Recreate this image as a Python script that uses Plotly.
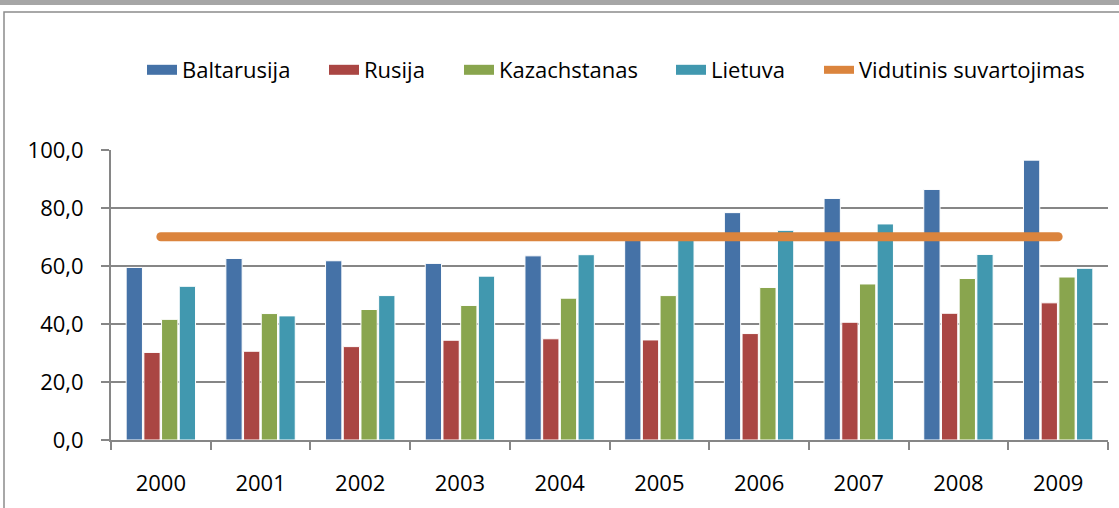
import plotly.graph_objects as go

years = ["2000", "2001", "2002", "2003", "2004", "2005", "2006", "2007", "2008", "2009"]
baltarusija = [59.5, 62.6, 61.8, 60.9, 63.5, 70.0, 78.4, 83.3, 86.4, 96.5]
rusija = [30.2, 30.6, 32.2, 34.4, 34.9, 34.5, 36.7, 40.6, 43.7, 47.3]
kazachstanas = [41.6, 43.6, 45.0, 46.4, 48.9, 49.8, 52.6, 53.8, 55.7, 56.2]
lietuva = [53.0, 42.8, 49.8, 56.5, 63.9, 69.5, 72.3, 74.5, 64.0, 59.2]
vidutinis = [70.1] * 10

series = [
    ("Baltarusija", baltarusija, "#4572A7"),
    ("Rusija", rusija, "#AA4643"),
    ("Kazachstanas", kazachstanas, "#89A54E"),
    ("Lietuva", lietuva, "#4198AF"),
]
line_name, line_color = "Vidutinis suvartojimas", "#DB843D"
legend_text_x = [183, 365, 500, 712, 860]

FONT = "Open Sans"
FS = 22
L, R, T, B = 111, 11, 150, 68
W, H = 1119, 508
pw, ph = W - L - R, H - T - B


def px(x):
    return (x - L) / pw


def py(y):
    return (H - B - y) / ph


fig = go.Figure()
for i, (name, vals, col) in enumerate(series):
    fig.add_trace(go.Bar(x=years, y=vals, name=name, showlegend=False,
                         marker=dict(color=col, line=dict(color="white", width=1))))
fig.add_trace(go.Scatter(x=years, y=vidutinis, name=line_name, showlegend=False,
                         mode="lines", line=dict(color=line_color, width=9)))

# legend entries (wide rectangular swatches)
legend_keys = ["legend", "legend2", "legend3", "legend4", "legend5"]
for i, (name, col) in enumerate([(s[0], s[2]) for s in series] + [(line_name, line_color)]):
    fig.add_trace(go.Scatter(x=[None], y=[None], name=name, mode="lines",
                             line=dict(color=col, width=11 if i < 4 else 8),
                             legend=legend_keys[i]))

legend_layout = {}
for i, key in enumerate(legend_keys):
    legend_layout[key] = dict(orientation="h", x=px(legend_text_x[i] - 41), y=py(70),
                              xanchor="left", yanchor="middle",
                              font=dict(family=FONT, size=FS, color="black"),
                              bgcolor="rgba(0,0,0,0)", itemwidth=30)

fig.update_layout(
    width=W, height=H,
    margin=dict(l=L, r=R, t=T, b=B),
    paper_bgcolor="white", plot_bgcolor="white",
    barmode="group", bargap=0.29, bargroupgap=0.08,
    separators=", ",
    font=dict(family=FONT, size=FS, color="black"),
    showlegend=True,
    xaxis=dict(type="category", showline=True, linecolor="#868686", linewidth=2,
               ticks="outside", tickson="boundaries", ticklen=8, tickcolor="#868686",
               tickwidth=2, tickfont=dict(family=FONT, size=FS), showgrid=False,
               ticklabelstandoff=23, automargin=False),
    yaxis=dict(range=[0, 100], dtick=20, tickformat=".1f", showline=True,
               linecolor="#868686", linewidth=2, ticks="outside", ticklen=8,
               tickcolor="#868686", tickwidth=2, showgrid=True, gridcolor="#868686",
               gridwidth=2, zeroline=False, tickfont=dict(family=FONT, size=FS),
               ticklabelstandoff=13, automargin=False),
    shapes=[
        dict(type="rect", xref="paper", yref="paper", x0=px(-5), x1=px(1125),
             y0=py(0), y1=py(5), fillcolor="#a6a6a6", line=dict(width=0), layer="above"),
        dict(type="rect", xref="paper", yref="paper", x0=px(4), x1=px(1130),
             y0=py(12), y1=py(520), fillcolor="rgba(0,0,0,0)",
             line=dict(color="#8c8c8c", width=1.5), layer="above"),
    ],
    **legend_layout,
)

post = (
    "document.body.style.margin='0';"
    "document.querySelectorAll('.scatterlayer .js-line').forEach("
    "function(p){p.style.strokeLinecap='round';});"
)
fig.write_html("out.html", post_script=post, config={"displayModeBar": False})
